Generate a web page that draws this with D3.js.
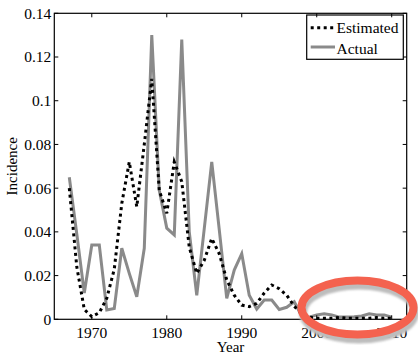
<!DOCTYPE html>
<html><head><meta charset="utf-8">
<script src="https://cdn.jsdelivr.net/npm/d3@7"></script>
<style>
html,body{margin:0;padding:0;background:#fff;}
text{font-family:"Liberation Serif","Times New Roman",serif;fill:#000;}
</style></head>
<body>
<svg id="c" width="418" height="355"></svg>
<script>
const years = d3.range(1967, 2011);
const actual = [0.065,0.039,0.012,0.034,0.034,0.0043,0.005,0.0325,0.021,0.0103,
  0.0325,0.130,0.059,0.0417,0.0386,0.128,0.040,0.011,0.0415,0.072,
  0.041,0.0096,0.0225,0.030,0.011,0.0047,0.0088,0.0088,0.0045,0.0055,
  0.008,0.0015,0.001,0.002,0.0025,0.002,0.001,0.001,0.0012,0.0015,
  0.0025,0.002,0.002,0.001];
const estimated = [0.060,0.024,0.0045,0.0012,0.003,0.0096,0.023,0.053,0.072,0.0515,
  0.080,0.110,0.059,0.0485,0.072,0.063,0.033,0.021,0.027,0.037,
  0.030,0.018,0.011,0.0065,0.0058,0.0073,0.012,0.0157,0.014,0.011,
  0.006,0.0024,0.001,0.0005,0.0005,0.0005,0.0008,0.0005,0.0005,0.0005,
  0.0005,0.0008,0.0005,0.0005];
const yTicks = [0,0.02,0.04,0.06,0.08,0.1,0.12,0.14];
const yTickLabels = ["0","0.02","0.04","0.06","0.08","0.1","0.12","0.14"];
const xTicks = [1970,1980,1990,2000,2010];
const seriesNames = ["Estimated","Actual"];

const svg = d3.select("#c");
const L=54.3, R=406.7, T=13.3, B=319.3;
const x = d3.scaleLinear().domain([1965,2012]).range([L,R]);
const y = d3.scaleLinear().domain([0,0.14]).range([B,T]);

const line = d3.line().x((d,i)=>x(years[i])).y(d=>y(d));

svg.append("path").datum(actual).attr("d",line)
  .attr("fill","none").attr("stroke","#8a8a8a").attr("stroke-width",3).attr("stroke-linejoin","miter");
svg.append("path").datum(estimated).attr("d",line)
  .attr("fill","none").attr("stroke","#000").attr("stroke-width",3).attr("stroke-dasharray","3,3.5");

// axes box
const g = svg.append("g");
g.append("rect").attr("x",L).attr("y",T).attr("width",R-L).attr("height",B-T)
  .attr("fill","none").attr("stroke","#000").attr("stroke-width",1.2);

// y ticks
yTicks.forEach((v,i)=>{
  const yy=y(v);
  g.append("line").attr("x1",L).attr("x2",L+4).attr("y1",yy).attr("y2",yy).attr("stroke","#000");
  g.append("line").attr("x1",R).attr("x2",R-4).attr("y1",yy).attr("y2",yy).attr("stroke","#000");
  g.append("text").attr("x",L-3).attr("y",yy).attr("dy","0.35em").attr("text-anchor","end")
    .attr("font-size","15.5px").text(yTickLabels[i]);
});

// legend
const lg = svg.append("g");
lg.append("rect").attr("x",306.7).attr("y",15).attr("width",96.6).attr("height",44.3)
  .attr("fill","#fff").attr("stroke","#000").attr("stroke-width",1.2);
lg.append("line").attr("x1",310.7).attr("x2",335).attr("y1",27.7).attr("y2",27.7)
  .attr("stroke","#000").attr("stroke-width",3).attr("stroke-dasharray","3,3.5");
lg.append("line").attr("x1",310.7).attr("x2",335).attr("y1",47).attr("y2",47)
  .attr("stroke","#8a8a8a").attr("stroke-width",3);
lg.append("text").attr("x",336.5).attr("y",32.5).attr("font-size","15.5px").text(seriesNames[0]);
lg.append("text").attr("x",336.5).attr("y",54).attr("font-size","15.5px").text(seriesNames[1]);

// x ticks
xTicks.forEach(v=>{
  const xx=x(v);
  g.append("line").attr("x1",xx).attr("x2",xx).attr("y1",B).attr("y2",B-4).attr("stroke","#000");
  svg.append("line").attr("x1",xx).attr("x2",xx).attr("y1",T).attr("y2",T+4).attr("stroke","#000");
  g.append("text").attr("x",xx).attr("y",337.5).attr("text-anchor","middle")
    .attr("font-size","15.5px").text(v);
});

svg.append("text").attr("x",(L+R)/2).attr("y",352).attr("text-anchor","middle")
  .attr("font-size","15px").text("Year");
svg.append("text").attr("transform",`translate(17,${(T+B)/2}) rotate(-90)`)
  .attr("text-anchor","middle").attr("font-size","15px").text("Incidence");

// annotation ellipse with shadow
const defs = svg.append("defs");
defs.append("filter").attr("id","blur").append("feGaussianBlur").attr("stdDeviation",1.2);
svg.append("ellipse").attr("cx",359).attr("cy",312.5).attr("rx",56).attr("ry",27)
  .attr("fill","none").attr("stroke","#bdbdbd").attr("stroke-width",8).attr("filter","url(#blur)");
svg.append("ellipse").attr("cx",357.5).attr("cy",307.5).attr("rx",56).attr("ry",27)
  .attr("fill","none").attr("stroke","#f4624f").attr("stroke-width",8);
</script>
</body></html>
